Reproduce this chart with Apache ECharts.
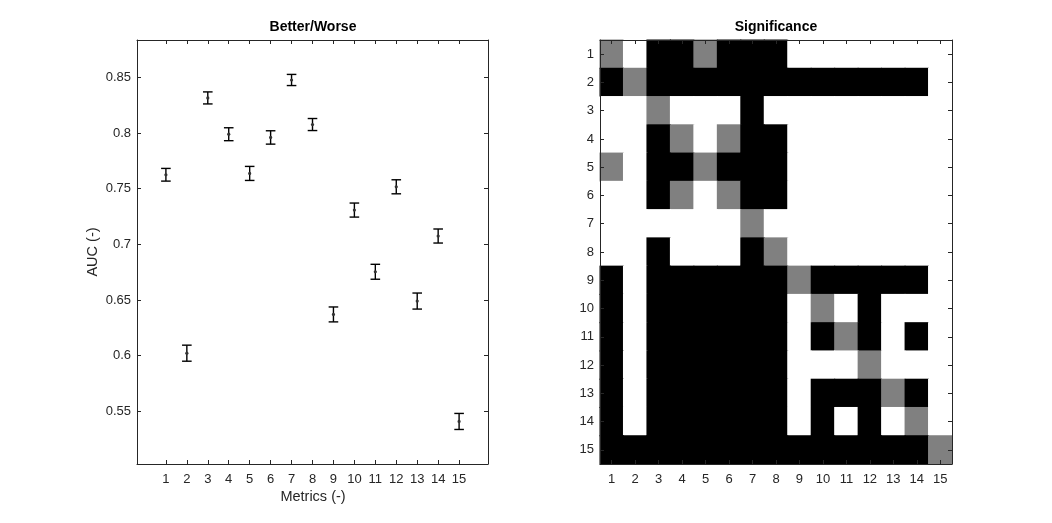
<!DOCTYPE html>
<html>
<head>
<meta charset="utf-8">
<script src="https://cdn.jsdelivr.net/npm/echarts@6/dist/echarts.min.js"></script>
<style>
html,body{margin:0;padding:0;background:#fff;}
#chart{width:1052px;height:523px;}
</style>
</head>
<body>
<div id="chart"></div>
<script>
// ---- data ----
var metrics = [1,2,3,4,5,6,7,8,9,10,11,12,13,14,15];
var aucMean = [0.7625, 0.6023, 0.8315, 0.7989, 0.7637, 0.7960, 0.8476, 0.8076, 0.6371, 0.7308, 0.6754, 0.7517, 0.6491, 0.7075, 0.5410];
var aucErr  = [0.0057, 0.0072, 0.0054, 0.0058, 0.0063, 0.0060, 0.0050, 0.0054, 0.0067, 0.0063, 0.0067, 0.0063, 0.0072, 0.0063, 0.0072];
var yTicks = [0.55, 0.6, 0.65, 0.7, 0.75, 0.8, 0.85];
var sigLabels = ['1','2','3','4','5','6','7','8','9','10','11','12','13','14','15'];
// 0 = not significant (white), 1 = self (gray), 2 = significant (black); rows top to bottom
var significance = [
  [1,0,2,2,1,2,2,2,0,0,0,0,0,0,0],
  [2,1,2,2,2,2,2,2,2,2,2,2,2,2,0],
  [0,0,1,0,0,0,2,0,0,0,0,0,0,0,0],
  [0,0,2,1,0,1,2,2,0,0,0,0,0,0,0],
  [1,0,2,2,1,2,2,2,0,0,0,0,0,0,0],
  [0,0,2,1,0,1,2,2,0,0,0,0,0,0,0],
  [0,0,0,0,0,0,1,0,0,0,0,0,0,0,0],
  [0,0,2,0,0,0,2,1,0,0,0,0,0,0,0],
  [2,0,2,2,2,2,2,2,1,2,2,2,2,2,0],
  [2,0,2,2,2,2,2,2,0,1,0,2,0,0,0],
  [2,0,2,2,2,2,2,2,0,2,1,2,0,2,0],
  [2,0,2,2,2,2,2,2,0,0,0,1,0,0,0],
  [2,0,2,2,2,2,2,2,0,2,2,2,1,2,0],
  [2,0,2,2,2,2,2,2,0,2,0,2,0,1,0],
  [2,2,2,2,2,2,2,2,2,2,2,2,2,2,1]
];
var levelColors = ['#ffffff', '#808080', '#000000'];

// ---- build ----
var FONT = "'Liberation Sans', Arial, Helvetica, sans-serif";
var AX = '#262626';
var errData = metrics.map(function(m, i){ return [m, aucMean[i], aucErr[i]]; });
var heatData = [];
significance.forEach(function(row, r){
  row.forEach(function(v, c){ heatData.push([c, r, v]); });
});

function valAxisX(pos, showLabel){
  return {
    type:'value', gridIndex:0, position:pos, min:-0.38, max:16.38,
    axisLine:{show:true, onZero:false, lineStyle:{color:AX, width:1}},
    axisTick:{show:true, inside:true, length:4, customValues:metrics, lineStyle:{color:AX}},
    axisLabel:{show:showLabel, customValues:metrics, color:AX, fontSize:13, fontFamily:FONT, margin:9},
    splitLine:{show:false}
  };
}
function valAxisY(pos, showLabel){
  return {
    type:'value', gridIndex:0, position:pos, min:0.5028, max:0.8835,
    axisLine:{show:true, onZero:false, lineStyle:{color:AX, width:1}},
    axisTick:{show:true, inside:true, length:4, customValues:yTicks, lineStyle:{color:AX}},
    axisLabel:{show:showLabel, customValues:yTicks, color:AX, fontSize:13, fontFamily:FONT, margin:6},
    splitLine:{show:false}
  };
}
function catAxis(dim, pos, showLabel){
  var a = {
    type:'category', gridIndex:1, position:pos, data:sigLabels, z:10,
    axisLine:{show:true, onZero:false, lineStyle:{color:AX, width:1}},
    axisTick:{show:true, inside:true, length:4, alignWithLabel:true, lineStyle:{color:AX}},
    axisLabel:{show:showLabel, color:AX, fontSize:13, fontFamily:FONT, margin: dim==='x'?9:6},
    splitLine:{show:false}
  };
  if (dim === 'y') a.inverse = true;
  return a;
}

var chart = echarts.init(document.getElementById('chart'), null, {renderer:'canvas'});
chart.setOption({
  backgroundColor:'#ffffff',
  animation:false,
  title:[
    {text:'Better/Worse', left:313, top:20, padding:0, textAlign:'center',
     textStyle:{fontSize:14, fontWeight:'bold', color:'#000', fontFamily:FONT}},
    {text:'Significance', left:776, top:20, padding:0, textAlign:'center',
     textStyle:{fontSize:14, fontWeight:'bold', color:'#000', fontFamily:FONT}}
  ],
  grid:[
    {left:137, top:40, width:351, height:424},
    {left:600, top:40, width:352, height:424}
  ],
  xAxis:[
    valAxisX('bottom', true),
    valAxisX('top', false),
    catAxis('x','bottom', true),
    catAxis('x','top', false)
  ],
  yAxis:[
    valAxisY('left', true),
    valAxisY('right', false),
    catAxis('y','left', true),
    catAxis('y','right', false)
  ],
  series:[
    {
      type:'custom', xAxisIndex:0, yAxisIndex:0, data:errData,
      renderItem:function(params, api){
        var x = api.value(0), y = api.value(1), e = api.value(2);
        var c = api.coord([x, y]);
        var t = api.coord([x, y + e]);
        var b = api.coord([x, y - e]);
        var hw = 4.8;
        var st = {stroke:'#000', lineWidth:1.4, fill:null};
        return {type:'group', children:[
          {type:'line', shape:{x1:c[0], y1:t[1], x2:c[0], y2:b[1]}, style:st},
          {type:'line', shape:{x1:c[0]-hw, y1:t[1], x2:c[0]+hw, y2:t[1]}, style:st},
          {type:'line', shape:{x1:c[0]-hw, y1:b[1], x2:c[0]+hw, y2:b[1]}, style:st},
          {type:'circle', shape:{cx:c[0], cy:c[1], r:1.6}, style:{fill:'#333333'}}
        ]};
      }
    },
    {
      type:'custom', xAxisIndex:2, yAxisIndex:2, data:heatData, z:2,
      renderItem:function(params, api){
        var c = api.coord([api.value(0), api.value(1)]);
        var s = api.size([1, 1]);
        var col = levelColors[api.value(2)];
        return {type:'rect',
          shape:{x:c[0]-s[0]/2-0.5, y:c[1]-s[1]/2-0.5, width:s[0]+1, height:s[1]+1},
          style:{fill:col, stroke:null}};
      }
    }
  ],
  graphic:[
    {type:'text', x:93, y:252, rotation:Math.PI/2,
     style:{text:'AUC (-)', fill:AX, font:'14.5px ' + FONT, align:'center', verticalAlign:'middle'}},
    {type:'text', x:313, y:497,
     style:{text:'Metrics (-)', fill:AX, font:'14.5px ' + FONT, align:'center', verticalAlign:'middle'}}
  ]
});
</script>
</body>
</html>
